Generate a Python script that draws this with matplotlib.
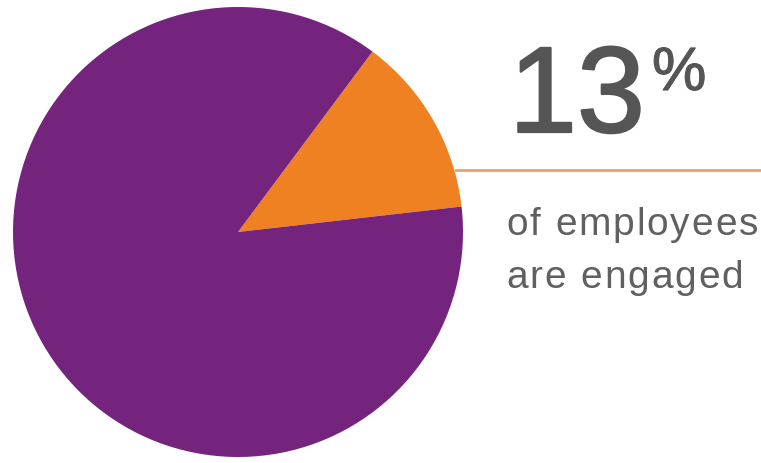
import matplotlib.pyplot as plt
import matplotlib.patheffects as pe
from matplotlib import font_manager
from matplotlib.ft2font import FT2Font

# data
labels = ['engaged', 'not engaged']
shares = [13, 87]
colors = ['#F08122', '#75247E']
big_value = '13'
caption = ['of employees', 'are engaged']

W, H = 761, 463
fig = plt.figure(figsize=(W / 100, H / 100), dpi=100)
fig.patch.set_facecolor('white')

# pie axes: center ~ (238, 232) px, radius ~225 px
cx, cy, r = 238, 232, 225
ax = fig.add_axes([(cx - r) / W, (H - cy - r) / H, 2 * r / W, 2 * r / H])
ax.pie(shares, colors=colors, startangle=6.5, counterclock=True,
       wedgeprops=dict(linewidth=0))
ax.set_aspect('auto')
ax.set_xlim(-1, 1)
ax.set_ylim(-1, 1)
ax.axis('off')

# orange leader line
fig.add_artist(plt.Line2D([456 / W, 1.0], [1 - 170 / H, 1 - 170 / H],
                          color='#E9A368', lw=2))

fam = ['Liberation Sans', 'DejaVu Sans']
grey = '#555555'
fig.text(509 / W, 1 - 132 / H, big_value, fontsize=88, color=grey,
         family=fam, ha='left', va='baseline',
         path_effects=[pe.withStroke(linewidth=1.6, foreground=grey)])
fig.text(652 / W, 1 - 90 / H, '%', fontsize=44, color=grey,
         family=fam, ha='left', va='baseline',
         path_effects=[pe.withStroke(linewidth=0.8, foreground=grey)])


# caption with a bit of letter spacing, like the original
def tracked_text(x_px, y_px, s, size, track_px, color):
    ft = FT2Font(font_manager.findfont('Liberation Sans'))
    ft.set_size(size, 100)
    for ch in s:
        fig.text(x_px / W, 1 - y_px / H, ch, fontsize=size, color=color,
                 family=fam, ha='left', va='baseline')
        g = ft.load_char(ord(ch))
        x_px += g.linearHoriAdvance / 65536 + track_px


for i, line in enumerate(caption):
    tracked_text(506, 235 + 53 * i, line, 28, 1.9, '#606060')

fig.savefig('out.png', dpi=100, facecolor='white')
